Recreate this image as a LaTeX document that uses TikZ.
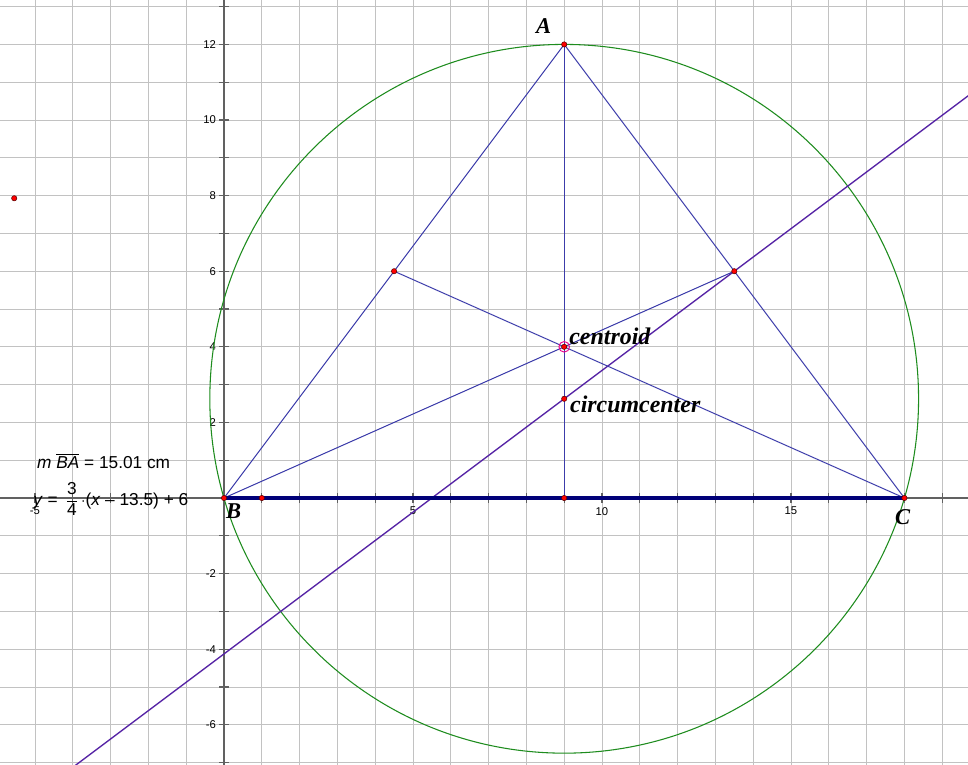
\documentclass[tikz,border=0pt]{standalone}
\usepackage{amsmath}
\usepackage{fontspec}
\setmainfont{Liberation Sans}
\newfontfamily\labelfont{Liberation Serif}
\definecolor{sideblue}{RGB}{60,60,170}
\definecolor{basenavy}{RGB}{0,0,120}
\definecolor{circgreen}{RGB}{30,140,30}
\definecolor{linepurple}{RGB}{85,35,165}
\begin{document}
\begin{tikzpicture}[x=1cm, y=1cm,
    gridline/.style={draw=black!24, line width=0.7pt},
    axisline/.style={draw=black!62, line width=0.8pt},
    side/.style={draw=sideblue, line width=0.75pt},
    base/.style={draw=basenavy, line width=3pt},
    circum/.style={draw=circgreen, line width=0.8pt},
    bisector/.style={draw=linepurple, line width=1pt},
    dot/.style={circle, fill=red, draw=red!35!black, line width=0.4pt, inner sep=0pt, minimum size=4pt},
    ring/.style={circle, draw=magenta, line width=0.7pt, inner sep=0pt, minimum size=8pt},
    ticklabel/.style={font=\fontsize{8.5}{10}\selectfont, inner sep=1pt},
    vertex/.style={font=\labelfont\bfseries\itshape\fontsize{17}{20}\selectfont, anchor=base west, inner sep=0pt},
    tag/.style={font=\labelfont\bfseries\itshape\fontsize{18}{21}\selectfont, anchor=base west, inner sep=0pt},
    measure/.style={font=\fontsize{13}{15}\selectfont, anchor=base west, inner sep=0pt}]

    % frame and grid
    \fill[white] (-5.926,-7.063) rectangle (19.683,13.175);
    \useasboundingbox (-5.926,-7.063) rectangle (19.683,13.175);
    \clip (-5.926,-7.063) rectangle (19.683,13.175);
    \draw[gridline, step=1] (-7,-8) grid (21,14);
    \draw[axisline] (-7,0) -- (21,0);
    \draw[axisline] (0,-8) -- (0,14);
    \foreach \t in {-6,...,20} \draw[axisline] (\t,-0.13) -- (\t,0.13);
    \foreach \t in {-8,...,14} \draw[axisline] (-0.13,\t) -- (0.13,\t);
    \foreach \t in {-5,5,10,15} \node[ticklabel, anchor=north] (xl\t) at (\t,-0.2) {\t};
    \foreach \t in {-6,-4,-2,2,4,6,8,10,12} \node[ticklabel, anchor=east] (yl\t) at (-0.17,\t) {\t};

    % points
    \coordinate (A) at (9,12);
    \coordinate (B) at (0,0);
    \coordinate (C) at (18,0);
    \coordinate (midAB) at (4.5,6);
    \coordinate (midAC) at (13.5,6);
    \coordinate (midBC) at (9,0);
    \coordinate (G) at (9,4);
    \coordinate (O) at (9,2.625);
    \coordinate (P) at (1,0);
    \coordinate (Q) at (-5.55,7.93);
    \coordinate (lineLow) at (-7,-9.375);
    \coordinate (lineHigh) at (21,11.625);

    % circle, bisector, triangle
    \draw[circum] (O) circle (9.375);
    \draw[bisector] (lineLow) -- (lineHigh);
    \draw[side] (B) -- (A) -- (C);
    \draw[side] (A) -- (midBC);
    \draw[side] (B) -- (midAC);
    \draw[side] (C) -- (midAB);
    \draw[base] (B) -- (C);

    \node[ring] (Gring) at (G) {};
    \foreach \p in {A,B,C,midAB,midAC,midBC,G,O,P,Q}
        \node[dot] (dot\p) at (\p) {};

    % labels
    \node[vertex] (labA) at (8.25,12.3) {A};
    \node[vertex] (labB) at (0.05,-0.53) {B};
    \node[vertex] (labC) at (17.75,-0.71) {C};
    \node[tag] (labG) at (9.13,4.05) {centroid};
    \node[tag] (labO) at (9.15,2.25) {circumcenter};
    \node[measure] (lenBA) at (-4.95,0.79) {\textit{m} $\overline{\mbox{\textit{BA}}}$ = 15.01 cm};
    \node[measure] (eqn) at (-5.05,-0.185) {\textit{y} = \,$\dfrac{\mbox{3}}{\mbox{4}}$\,$\cdot$(\textit{x} -- 13.5) + 6};
\end{tikzpicture}
\end{document}
